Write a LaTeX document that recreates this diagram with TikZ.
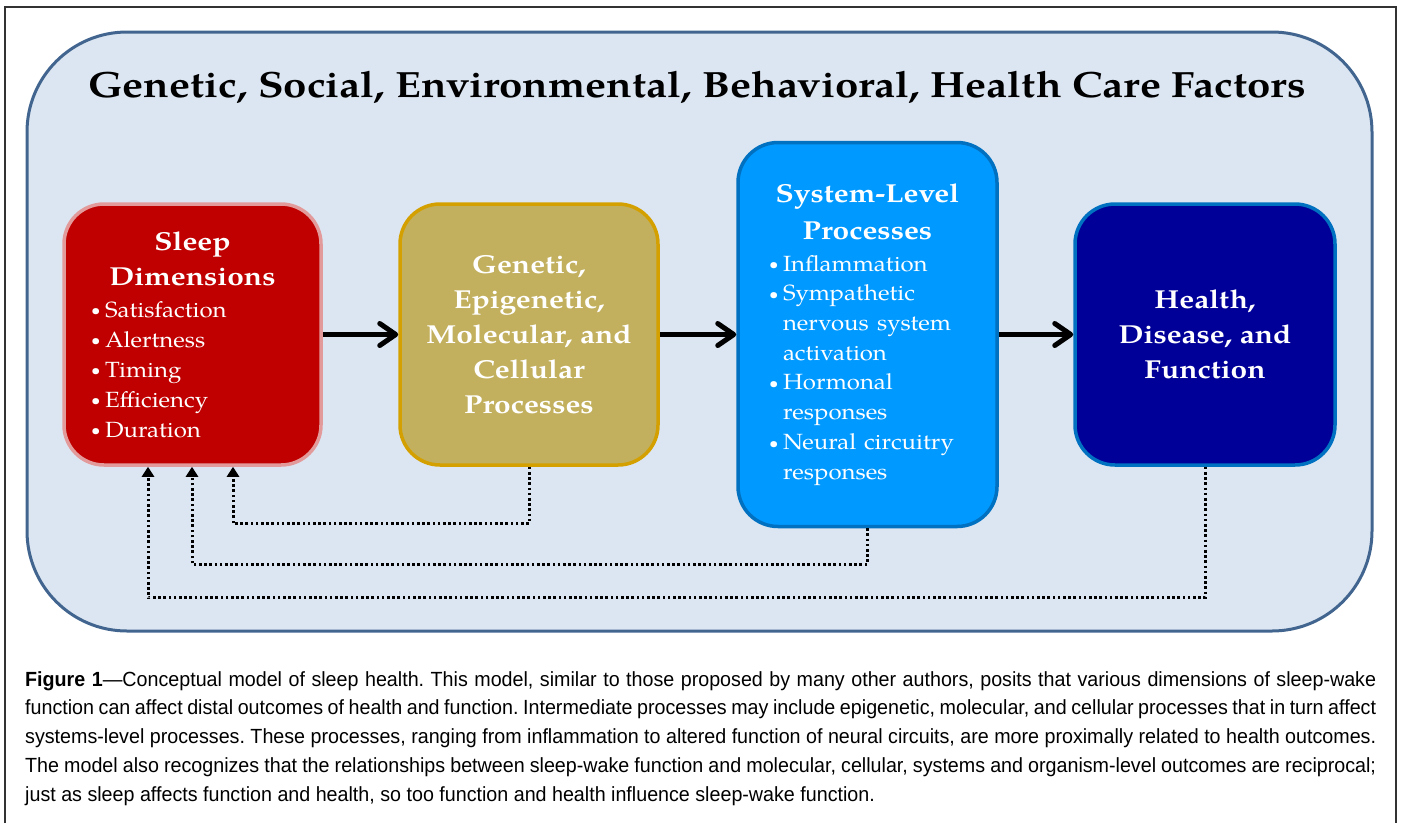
\documentclass[tikz,border=0pt]{standalone}
\usepackage{fontspec}
\setmainfont{TeX Gyre Pagella}[FakeStretch=1.09]
\newfontfamily\headfont{TeX Gyre Pagella}[FakeStretch=1.15]
\newfontfamily\capfont{Liberation Sans}[FakeStretch=0.96]
\usetikzlibrary{arrows.meta}

\definecolor{panelfill}{HTML}{DCE6F2}
\definecolor{paneledge}{HTML}{41658F}
\definecolor{sleepfill}{HTML}{C00000}
\definecolor{sleepedge}{HTML}{E39A9A}
\definecolor{cellfill}{HTML}{C2B05E}
\definecolor{celledge}{HTML}{D4A000}
\definecolor{sysfill}{HTML}{0099FF}
\definecolor{sysedge}{HTML}{0070C0}
\definecolor{healthfill}{HTML}{000099}
\definecolor{healthedge}{HTML}{0070C0}
\definecolor{framecol}{HTML}{333333}

% small bullet and a bullet item with hanging continuation lines
\newcommand{\smallbullet}{\hspace{1pt}\raisebox{1.2pt}{\scalebox{0.7}{\textbullet}}}
\newcommand{\bitem}[1]{\par\hangindent=15pt\hangafter=1\noindent\makebox[15pt][l]{\smallbullet}#1}
\newcommand{\stagehead}{\headfont\bfseries\fontsize{26}{35}\selectfont}
\newcommand{\stagelist}{\normalfont\fontsize{22}{30}\selectfont}

\begin{document}
\begin{tikzpicture}[x=1pt,y=-1pt,
  stage/.style={rounded corners=40pt, line width=3.5pt, text=white, inner sep=0pt, align=center},
  flow/.style={line width=5pt, -{Straight Barb[length=16pt,width=22pt,line cap=round,line join=round]}},
  feedback/.style={line width=3pt, dash pattern=on 2.6pt off 2.6pt, -{Triangle[length=10pt,width=12pt]}},
]
\useasboundingbox (0,0) rectangle (1401,823);

% page frame, open at the bottom
\draw[framecol, line width=1.3pt] (5,823) -- (5,7) -- (1396,7) -- (1396,823);

% background panel of influencing factors
\node[draw=paneledge, fill=panelfill, line width=3pt, rounded corners=100pt,
      minimum width=1345pt, minimum height=599pt, inner sep=0pt] (panel) at (699.5,331.5) {};
\node[font=\headfont\bfseries\fontsize{36.5}{40}\selectfont, anchor=base] (title) at (697,97)
  {Genetic, Social, Environmental, Behavioral, Health Care Factors};

% the four stages
\node[stage, fill=sleepfill, draw=sleepedge, minimum width=257pt, minimum height=261pt,
      text width=205pt] (sleep) at (192.5,334.5)
  {{\centering\stagehead Sleep\\Dimensions\par}\vspace{2pt}
   {\raggedright\stagelist
    \bitem{Satisfaction}
    \bitem{Alertness}
    \bitem{Timing}
    \bitem{Efficiency}
    \bitem{Duration}\par}};

\node[stage, fill=cellfill, draw=celledge, minimum width=258pt, minimum height=261pt,
      font=\stagehead] (cell) at (529,334.5)
  {Genetic,\\Epigenetic,\\Molecular, and\\Cellular\\Processes};

\node[stage, fill=sysfill, draw=sysedge, minimum width=259pt, minimum height=384pt,
      text width=199pt] (sys) at (867.5,334.5)
  {{\centering\headfont\bfseries\fontsize{26}{37}\selectfont System-Level\\Processes\par}\vspace{2pt}
   {\raggedright\normalfont\fontsize{22}{29.7}\selectfont
    \bitem{Inflammation}
    \bitem{Sympathetic\newline\makebox[168pt][l]{nervous\hfill system}\newline activation}
    \bitem{Hormonal\newline responses}
    \bitem{\makebox[171pt][l]{Neural\hfill circuitry}\newline responses}\par}};

\node[stage, fill=healthfill, draw=healthedge, minimum width=260pt, minimum height=261pt,
      font=\stagehead] (health) at (1205,334.5)
  {Health,\\Disease, and\\Function};

% forward pathway
\draw[flow] (sleep.east) -- (cell.west);
\draw[flow] (cell.east) -- (sys.west);
\draw[flow] (sys.east) -- (health.west);

% reciprocal feedback to sleep
\draw[feedback] (cell.south) -- ++(0,57) -| ([xshift=40.5pt]sleep.south);
\draw[feedback] (sys.south) -- ++(0,36) -| ([xshift=-0.5pt]sleep.south);
\draw[feedback] (health.south) -- ++(0,131) -| ([xshift=-44.5pt]sleep.south);

% caption
\node[anchor=base west, text width=1351pt, align=justify, inner sep=0pt,
      font=\capfont\fontsize{20.5}{28.8}\selectfont] (caption) at (25,686)
  {\hyphenpenalty=10000\frenchspacing
   \textbf{Figure 1}—Conceptual model of sleep health. This model, similar to those proposed by many other authors, posits that various dimensions of sleep-wake\linebreak
   function can affect distal outcomes of health and function. Intermediate processes may include epigenetic, molecular, and cellular processes that in turn affect\linebreak
   systems-level processes. These processes, ranging from inflammation to altered function of neural circuits, are more proximally related to health outcomes.\linebreak
   The model also recognizes that the relationships between sleep-wake function and molecular, cellular, systems and organism-level outcomes are reciprocal;\linebreak
   just as sleep affects function and health, so too function and health influence sleep-wake function.};
\end{tikzpicture}
\end{document}
